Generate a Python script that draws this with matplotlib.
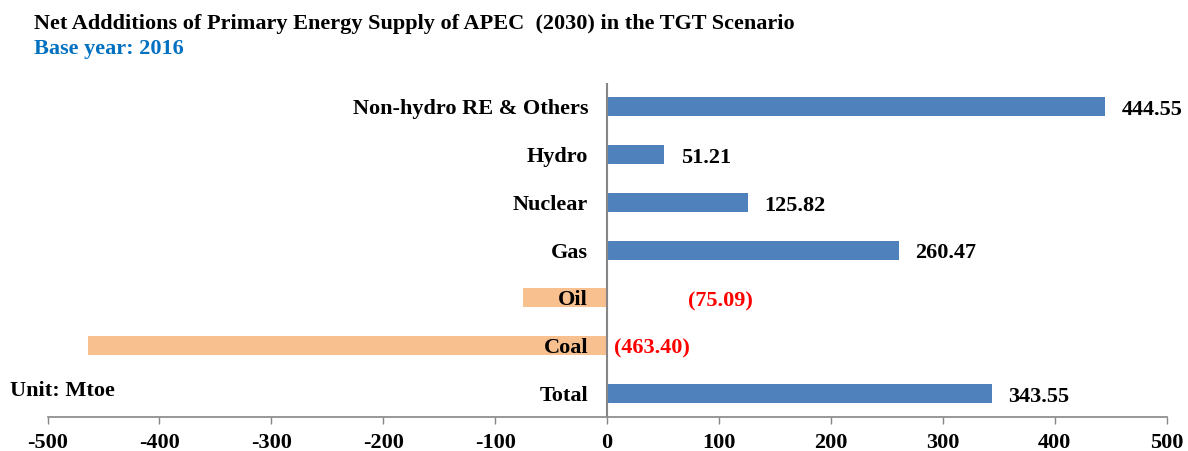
import matplotlib.pyplot as plt

plt.rcParams['font.family'] = ['Liberation Serif', 'DejaVu Serif']
plt.rcParams['font.weight'] = 'bold'

categories = ['Non-hydro RE & Others', 'Hydro', 'Nuclear', 'Gas', 'Oil', 'Coal', 'Total']
values = [444.55, 51.21, 125.82, 260.47, -75.09, -463.40, 343.55]
xticks = [-500, -400, -300, -200, -100, 0, 100, 200, 300, 400, 500]

blue = '#4F81BD'
orange = '#F9C08F'
grey = '#868686'

fig = plt.figure(figsize=(11.88, 4.52), dpi=100)
ax = fig.add_axes([0.04, 0.075, 0.942, 0.739])

ypos = list(range(len(categories)))
colors = [blue if v >= 0 else orange for v in values]
ax.barh(ypos, values, height=0.4, color=colors, zorder=2)

ax.set_xlim(-500, 500)
ax.set_ylim(len(categories) - 0.5, -0.5)
ax.set_xticks(xticks)
ax.set_xticklabels([str(t) for t in xticks], fontsize=16, fontweight='bold')
ax.set_yticks([])
ax.tick_params(axis='x', length=5, color=grey, width=1, pad=6)

for side in ['top', 'right', 'left']:
    ax.spines[side].set_visible(False)
ax.spines['bottom'].set_color(grey)
ax.spines['bottom'].set_linewidth(1.2)
ax.axvline(0, color=grey, lw=1.5, zorder=3)

# category names sit just left of the zero line
for y, name in zip(ypos, categories):
    ax.text(-17, y + 0.03, name, ha='right', va='center', fontsize=16, fontweight='bold')

# value labels; negatives shown in red with brackets on the right of zero
neg_x = {'Oil': 72, 'Coal': 6}
for y, name, v in zip(ypos, categories, values):
    if v >= 0:
        ax.text(v + 15, y + 0.05, f'{v:.2f}', ha='left', va='center',
                fontsize=16, fontweight='bold', color='black')
    else:
        ax.text(neg_x[name], y + 0.05, f'({abs(v):.2f})', ha='left', va='center',
                fontsize=16, fontweight='bold', color='#FF0000')

fig.text(0.029, 0.947, 'Net Addditions of Primary Energy Supply of APEC  (2030) in the TGT Scenario',
         ha='left', va='center', fontsize=16, fontweight='bold')
fig.text(0.029, 0.891, 'Base year: 2016', ha='left', va='center',
         fontsize=16, fontweight='bold', color='#0070C0')
fig.text(0.008, 0.136, 'Unit: Mtoe', ha='left', va='center', fontsize=16, fontweight='bold')

fig.savefig('out.png', dpi=100)
